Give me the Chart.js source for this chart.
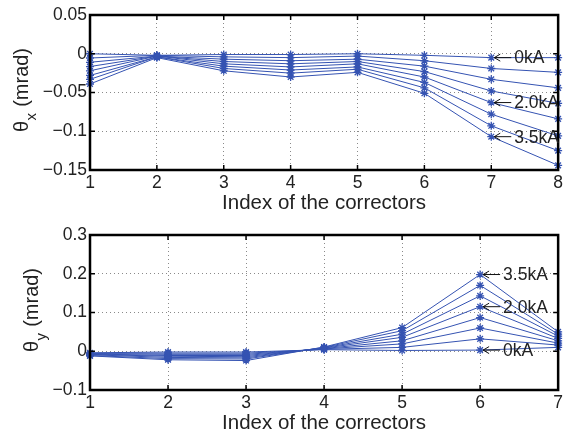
<!DOCTYPE html>
<html>
<head>
<meta charset="utf-8">
<script src="https://cdn.jsdelivr.net/npm/chart.js@4/dist/chart.umd.min.js"></script>
<style>
  html, body { margin: 0; padding: 0; background: #fff; }
  #wrap { position: relative; width: 566px; height: 433px; }
  #c1 { position: absolute; left: 0; top: 0; }
  #c2 { position: absolute; left: 0; top: 220px; }
</style>
</head>
<body>
<div id="wrap">
  <canvas id="c1" width="566" height="215"></canvas>
  <canvas id="c2" width="566" height="213"></canvas>
</div>
<script>
// ---- data ----
const currents = ['0kA', '0.5kA', '1.0kA', '1.5kA', '2.0kA', '2.5kA', '3.0kA', '3.5kA'];

// theta_x (mrad), correctors 1..8
const correctorsX = [1, 2, 3, 4, 5, 6, 7, 8];
const thetaX_0_0 = [0.000, -0.002, -0.001, -0.001, 0.000, -0.002, -0.005, -0.005];
const thetaX_0_5 = [-0.0055, -0.002, -0.004, -0.005, -0.003, -0.009, -0.019, -0.024];
const thetaX_1_0 = [-0.011, -0.003, -0.007, -0.009, -0.007, -0.016, -0.033, -0.044];
const thetaX_1_5 = [-0.0165, -0.003, -0.010, -0.013, -0.010, -0.023, -0.048, -0.064];
const thetaX_2_0 = [-0.022, -0.003, -0.013, -0.017, -0.013, -0.030, -0.063, -0.084];
const thetaX_2_5 = [-0.028, -0.004, -0.016, -0.021, -0.017, -0.037, -0.078, -0.106];
const thetaX_3_0 = [-0.033, -0.004, -0.019, -0.025, -0.020, -0.044, -0.093, -0.125];
const thetaX_3_5 = [-0.039, -0.005, -0.022, -0.030, -0.024, -0.051, -0.107, -0.144];

// theta_y (mrad), correctors 1..7
const correctorsY = [1, 2, 3, 4, 5, 6, 7];
const thetaY_0_0 = [-0.004, -0.002, -0.002, 0.004, 0.002, 0.003, 0.010];
const thetaY_0_5 = [-0.005, -0.005, -0.005, 0.005, 0.010, 0.032, 0.016];
const thetaY_1_0 = [-0.006, -0.008, -0.008, 0.006, 0.019, 0.060, 0.021];
const thetaY_1_5 = [-0.007, -0.011, -0.011, 0.007, 0.027, 0.087, 0.027];
const thetaY_2_0 = [-0.008, -0.013, -0.014, 0.008, 0.036, 0.115, 0.033];
const thetaY_2_5 = [-0.009, -0.016, -0.017, 0.009, 0.044, 0.143, 0.039];
const thetaY_3_0 = [-0.011, -0.019, -0.020, 0.010, 0.053, 0.170, 0.044];
const thetaY_3_5 = [-0.012, -0.022, -0.024, 0.011, 0.061, 0.198, 0.050];

// tick values / labels
const yTicksX = [0.05, 0, -0.05, -0.1, -0.15];
const yTickLabelsX = ['0.05', '0', '\u22120.05', '\u22120.1', '\u22120.15'];
const yTicksY = [0.3, 0.2, 0.1, 0, -0.1];
const yTickLabelsY = ['0.3', '0.2', '0.1', '0', '\u22120.1'];

const seriesX = [thetaX_0_0, thetaX_0_5, thetaX_1_0, thetaX_1_5, thetaX_2_0, thetaX_2_5, thetaX_3_0, thetaX_3_5];
const seriesY = [thetaY_0_0, thetaY_0_5, thetaY_1_0, thetaY_1_5, thetaY_2_0, thetaY_2_5, thetaY_3_0, thetaY_3_5];

// ---- styling ----
const BLUE = '#3553b2';
const FONT = "'Liberation Sans', Arial, Helvetica, sans-serif";

function makeDatasets(xs, series) {
  return series.map((vals, i) => ({
    label: currents[i],
    data: xs.map((x, j) => ({ x: x, y: vals[j] })),
    borderColor: BLUE,
    backgroundColor: BLUE,
    borderWidth: 1,
    pointStyle: 'star',
    pointRadius: 4,
    pointBorderWidth: 1.3,
    pointBorderColor: BLUE,
    tension: 0,
    clip: false
  }));
}

function decoPlugin(opts) {
  return {
    id: 'deco',
    afterDraw(chart) {
      const ctx = chart.ctx;
      const a = chart.chartArea;
      const sx = chart.scales.x, sy = chart.scales.y;
      ctx.save();
      // inward tick marks
      ctx.strokeStyle = '#000';
      ctx.lineWidth = 1.5;
      ctx.beginPath();
      sx.ticks.forEach(t => {
        const px = sx.getPixelForValue(t.value);
        ctx.moveTo(px, a.bottom); ctx.lineTo(px, a.bottom - 5);
        ctx.moveTo(px, a.top); ctx.lineTo(px, a.top + 5);
      });
      sy.ticks.forEach(t => {
        const py = sy.getPixelForValue(t.value);
        ctx.moveTo(a.left, py); ctx.lineTo(a.left + 5, py);
        ctx.moveTo(a.right, py); ctx.lineTo(a.right - 5, py);
      });
      ctx.stroke();
      // frame
      ctx.lineWidth = 2.5;
      ctx.strokeRect(a.left, a.top, a.right - a.left, a.bottom - a.top);

      // x axis title
      ctx.fillStyle = '#222';
      ctx.font = '20.5px ' + FONT;
      ctx.textAlign = 'center';
      ctx.textBaseline = 'alphabetic';
      ctx.fillText('Index of the correctors', (a.left + a.right) / 2, opts.titleBaseline);

      // y axis title with subscript
      const cy = (a.top + a.bottom) / 2 - 2;
      ctx.translate(opts.yTitleX, cy);
      ctx.rotate(-Math.PI / 2);
      ctx.textAlign = 'left';
      const big = '20px ' + FONT, small = '15px ' + FONT;
      ctx.font = big; const w1 = ctx.measureText('\u03b8').width;
      ctx.font = small; const w2 = ctx.measureText(opts.sub).width;
      ctx.font = big; const w3 = ctx.measureText(' (mrad)').width;
      let x0 = -(w1 + w2 + w3) / 2;
      ctx.font = big; ctx.fillText('\u03b8', x0, 0);
      ctx.font = small; ctx.fillText(opts.sub, x0 + w1 + 0.5, 8);
      ctx.font = big; ctx.fillText(' (mrad)', x0 + w1 + w2 + 1, 0);
      ctx.restore();

      // arrow annotations
      ctx.save();
      ctx.strokeStyle = '#111';
      ctx.fillStyle = '#222';
      ctx.lineWidth = 1;
      ctx.font = '17.5px ' + FONT;
      ctx.textAlign = 'left';
      ctx.textBaseline = 'middle';
      opts.labels.forEach(l => {
        const el = chart.getDatasetMeta(l.ds).data[l.pt];
        const px = el.x, py = el.y;
        ctx.beginPath();
        ctx.moveTo(px + 3, py); ctx.lineTo(px + 20, py);
        ctx.moveTo(px + 9, py - 3.5); ctx.lineTo(px + 3, py); ctx.lineTo(px + 9, py + 3.5);
        ctx.stroke();
        ctx.fillText(currents[l.ds], px + 23, py + 1);
      });
      ctx.restore();
    }
  };
}

function makeChart(canvasId, xs, series, yMin, yMax, yTicks, yLabels, opts) {
  const H = document.getElementById(canvasId).height;
  return new Chart(document.getElementById(canvasId), {
    type: 'line',
    data: { datasets: makeDatasets(xs, series) },
    options: {
      responsive: false,
      animation: false,
      devicePixelRatio: 1,
      layout: { padding: { left: 0, right: 3, top: 15, bottom: 0 } },
      plugins: { legend: { display: false }, tooltip: { enabled: false } },
      scales: {
        x: {
          type: 'linear',
          min: xs[0], max: xs[xs.length - 1],
          afterBuildTicks(scale) { scale.ticks = xs.map(v => ({ value: v })); },
          afterFit(scale) { scale.height = H - 15 - 155; },
          ticks: {
            color: '#222',
            font: { family: FONT, size: 17.5 },
            padding: 3,
            maxRotation: 0,
            autoSkip: false,
            callback: v => String(v)
          },
          grid: { color: '#8a8a8a', lineWidth: 1, drawTicks: false },
          border: { display: false, dash: [1, 3] }
        },
        y: {
          type: 'linear',
          min: yMin, max: yMax,
          afterBuildTicks(scale) { scale.ticks = yTicks.map(v => ({ value: v })); },
          afterFit(scale) { scale.width = 90; },
          ticks: {
            color: '#222',
            font: { family: FONT, size: 17.5 },
            padding: 3,
            autoSkip: false,
            callback: (v) => {
              const i = yTicks.findIndex(t => Math.abs(t - v) < 1e-9);
              return i >= 0 ? yLabels[i] : '';
            }
          },
          grid: { color: '#8a8a8a', lineWidth: 1, drawTicks: false },
          border: { display: false, dash: [1, 3] }
        }
      }
    },
    plugins: [decoPlugin(opts)]
  });
}

makeChart('c1', correctorsX, seriesX, -0.15, 0.05, yTicksX, yTickLabelsX, {
  titleBaseline: 209, yTitleX: 28, sub: 'x',
  labels: [{ ds: 0, pt: 6 }, { ds: 4, pt: 6 }, { ds: 7, pt: 6 }]
});
makeChart('c2', correctorsY, seriesY, -0.1, 0.3, yTicksY, yTickLabelsY, {
  titleBaseline: 209, yTitleX: 38, sub: 'y',
  labels: [{ ds: 7, pt: 5 }, { ds: 4, pt: 5 }, { ds: 0, pt: 5 }]
});
</script>
</body>
</html>
